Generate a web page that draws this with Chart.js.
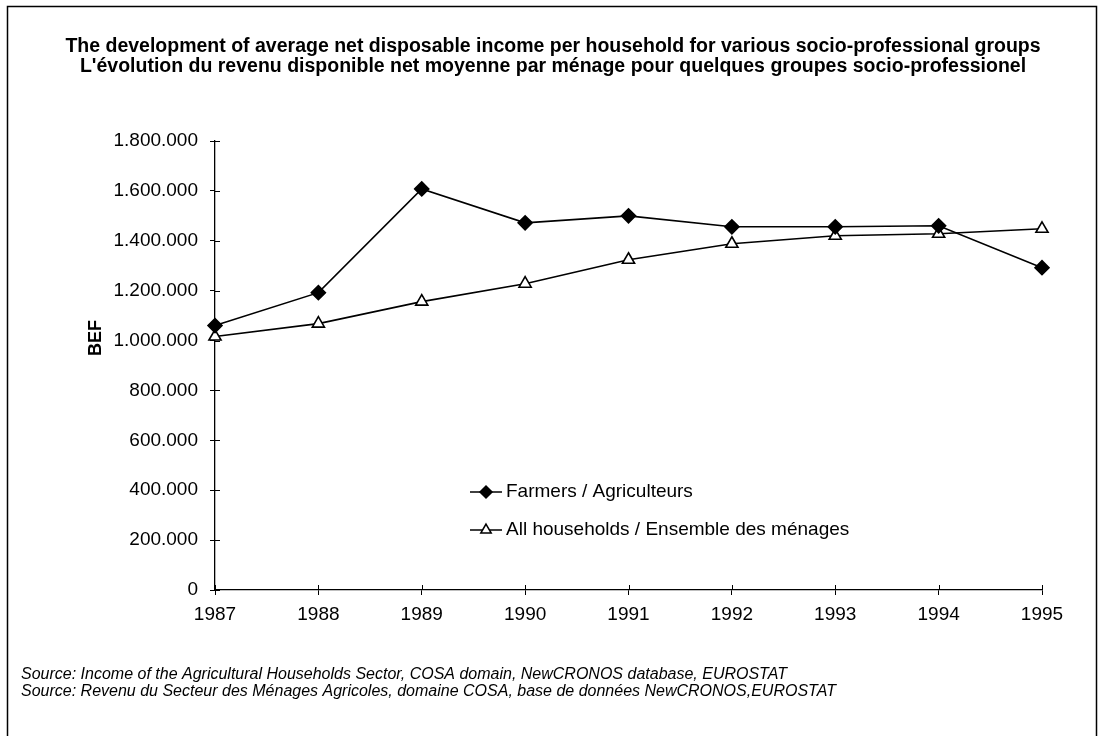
<!DOCTYPE html>
<html>
<head>
<meta charset="utf-8">
<script src="https://cdn.jsdelivr.net/npm/chart.js@4.4.1/dist/chart.umd.min.js"></script>
<style>
  html, body { margin: 0; padding: 0; background: #fff; }
  #wrap { position: relative; width: 1100px; height: 736px; }
</style>
</head>
<body>
<div id="wrap"><canvas id="incomeChart" width="1100" height="736"></canvas></div>
<script>
// data
const years = ['1987', '1988', '1989', '1990', '1991', '1992', '1993', '1994', '1995'];
const farmers = [1060000, 1192000, 1608000, 1472000, 1500000, 1456000, 1456000, 1460000, 1292000];
const allHouseholds = [1016000, 1068000, 1156000, 1228000, 1324000, 1388000, 1420000, 1428000, 1448000];
const yTicks = [0, 200000, 400000, 600000, 800000, 1000000, 1200000, 1400000, 1600000, 1800000];

const titleLines = [
  'The development of average net disposable income per household for various socio-professional groups',
  "L'évolution du revenu disponible net moyenne par ménage pour quelques groupes socio-professionel"
];
const sourceLines = [
  'Source: Income of the Agricultural Households Sector, COSA domain, NewCRONOS database, EUROSTAT',
  'Source: Revenu du Secteur des Ménages Agricoles, domaine COSA, base de données NewCRONOS,EUROSTAT'
];
const FONT = '"Liberation Sans", Arial, sans-serif';

function fmt(v) {
  return String(v).replace(/\B(?=(\d{3})+(?!\d))/g, '.');
}

// titles, source notes, frame, BEF label, inner tick halves, legend
const decorations = {
  id: 'decorations',
  beforeDatasetsDraw(chart) {
    const { ctx, scales: { x, y } } = chart;
    ctx.save();
    ctx.strokeStyle = '#000';
    ctx.lineWidth = 1;
    ctx.beginPath();
    yTicks.forEach(v => {
      const py = Math.round(y.getPixelForValue(v)) + 0.5;
      ctx.moveTo(x.left, py);
      ctx.lineTo(x.left + 5, py);
    });
    years.forEach((_, i) => {
      const px = Math.round(x.getPixelForValue(i)) + 0.5;
      ctx.moveTo(px, y.bottom);
      ctx.lineTo(px, y.bottom - 5);
    });
    ctx.stroke();
    ctx.restore();
  },
  afterDraw(chart) {
    const { ctx } = chart;
    ctx.save();
    ctx.fillStyle = '#000';
    ctx.strokeStyle = '#000';

    // frame (left, top, right; the bottom edge falls outside the picture)
    ctx.lineWidth = 1.5;
    ctx.beginPath();
    ctx.moveTo(7.5, 736);
    ctx.lineTo(7.5, 6.5);
    ctx.lineTo(1096.5, 6.5);
    ctx.lineTo(1096.5, 736);
    ctx.stroke();

    // title
    ctx.font = 'bold 19.5px ' + FONT;
    ctx.textAlign = 'center';
    ctx.textBaseline = 'middle';
    ctx.fillText(titleLines[0], 553, 47);
    ctx.fillText(titleLines[1], 553, 67);

    // y axis name
    ctx.save();
    ctx.translate(96, 338);
    ctx.rotate(-Math.PI / 2);
    ctx.font = 'bold 18px ' + FONT;
    ctx.fillText('BEF', 0, 0);
    ctx.restore();

    // source notes
    ctx.font = 'italic 16px ' + FONT;
    ctx.textAlign = 'left';
    ctx.fillText(sourceLines[0], 21, 675);
    ctx.fillText(sourceLines[1], 21, 692);

    // legend inside the plot
    ctx.font = '19px ' + FONT;
    chart.data.datasets.forEach((ds, i) => {
      const ly = 492 + i * 38;
      ctx.strokeStyle = '#000';
      ctx.lineWidth = 1.5;
      ctx.beginPath();
      ctx.moveTo(470, ly);
      ctx.lineTo(502, ly);
      ctx.stroke();
      ctx.fillStyle = ds.pointBackgroundColor;
      Chart.helpers.drawPoint(ctx, {
        pointStyle: ds.pointStyle,
        radius: 6,
        borderWidth: 1.5
      }, 486, ly);
      ctx.fillStyle = '#000';
      ctx.fillText(ds.label, 506, ly);
    });
    ctx.restore();
  }
};

const ctx = document.getElementById('incomeChart').getContext('2d');
new Chart(ctx, {
  type: 'line',
  data: {
    labels: years,
    datasets: [{
      label: 'Farmers / Agriculteurs',
      data: farmers,
      borderColor: '#000',
      borderWidth: 1.6,
      pointStyle: 'rectRot',
      pointRadius: 7,
      pointBackgroundColor: '#000',
      pointBorderColor: '#000',
      tension: 0,
      fill: false
    }, {
      label: 'All households / Ensemble des ménages',
      data: allHouseholds,
      borderColor: '#000',
      borderWidth: 1.6,
      pointStyle: 'triangle',
      pointRadius: 7,
      pointBackgroundColor: '#fff',
      pointBorderColor: '#000',
      pointBorderWidth: 1.6,
      tension: 0,
      fill: false
    }]
  },
  options: {
    responsive: false,
    animation: false,
    events: [],
    layout: { padding: { top: 141, right: 58, bottom: 106, left: 0 } },
    plugins: {
      legend: { display: false },
      title: { display: false },
      tooltip: { enabled: false }
    },
    scales: {
      x: {
        offset: false,
        afterFit(scale) { scale.height = 40; },
        grid: { drawOnChartArea: false, tickLength: 5, color: '#000' },
        border: { color: '#000', width: 1.3 },
        ticks: { color: '#000', padding: 8, maxRotation: 0, font: { family: FONT, size: 19 } }
      },
      y: {
        min: 0,
        max: 1800000,
        afterFit(scale) { scale.width = 215; },
        afterBuildTicks(scale) { scale.ticks = yTicks.map(v => ({ value: v })); },
        grid: { drawOnChartArea: false, tickLength: 5, color: '#000' },
        border: { color: '#000', width: 1.3 },
        ticks: {
          color: '#000',
          padding: 12,
          font: { family: FONT, size: 19 },
          callback: v => fmt(v)
        }
      }
    }
  },
  plugins: [decorations]
});
</script>
</body>
</html>
